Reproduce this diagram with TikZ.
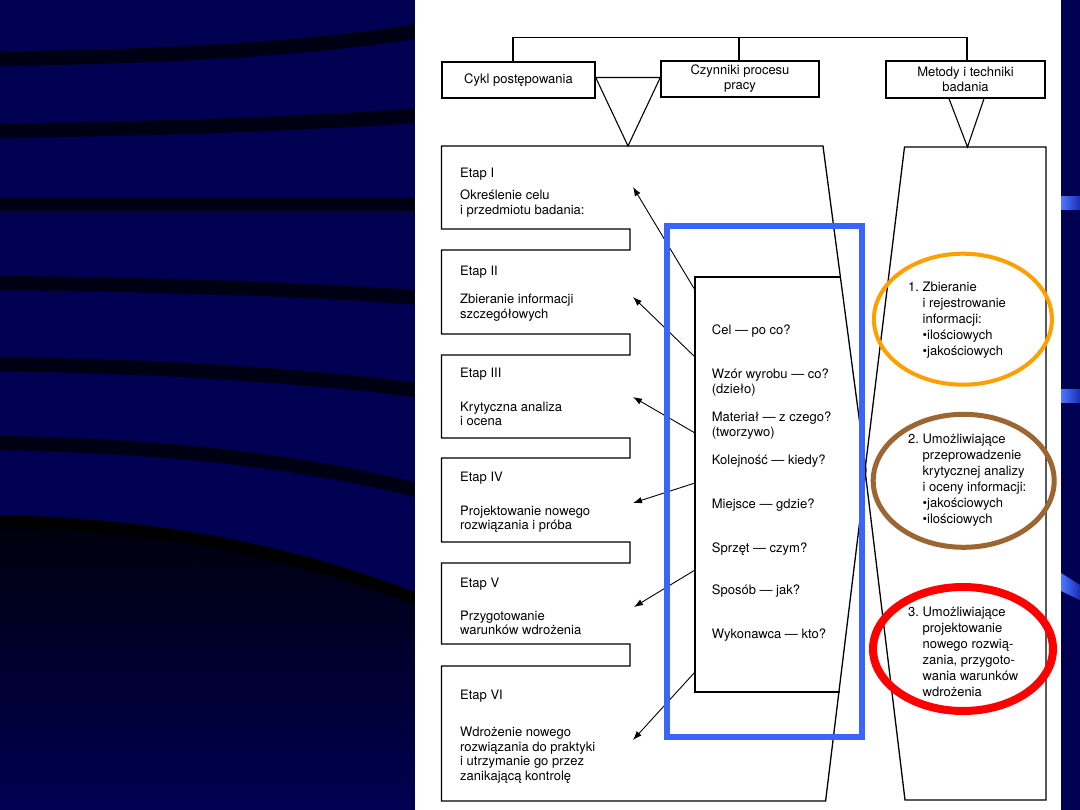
\documentclass[tikz,border=0pt]{standalone}
\usepackage{fontspec}
\setmainfont{TeX Gyre Heros}
\usetikzlibrary{arrows.meta}
\definecolor{navy}{RGB}{0,0,82}
\definecolor{bandc}{RGB}{0,0,20}
\definecolor{darkc}{RGB}{0,0,10}
\definecolor{midc}{RGB}{0,0,24}
\definecolor{bluebox}{RGB}{58,100,250}
\definecolor{orng}{RGB}{255,160,0}
\definecolor{brwn}{RGB}{156,102,50}
\definecolor{redc}{RGB}{255,0,0}
\definecolor{gleam}{RGB}{75,120,255}
\definecolor{gleamdk}{RGB}{25,45,180}
\newcommand{\txtblk}[1]{\begin{tabular}{@{}l@{}}#1\end{tabular}}
\newcommand{\numblk}[1]{\begin{tabular}{@{}l@{\ }l@{}}#1\end{tabular}}
\begin{document}
\begin{tikzpicture}[x=1pt,y=-1pt,line join=miter,
  frame/.style={line width=1.3pt,black},
  ln/.style={line width=1.1pt,black},
  hdr/.style={draw,line width=1.4pt,inner sep=0pt,align=center,font=\fontsize{13}{15}\selectfont},
  txt/.style={inner sep=0pt,anchor=west,font=\fontsize{13}{15}\selectfont},
  etxt/.style={inner sep=0pt,anchor=west,font=\fontsize{13}{14.5}\selectfont},
  otxt/.style={inner sep=0pt,anchor=west,font=\fontsize{13}{16}\selectfont},
  arr/.style={line width=0.9pt,-{Latex[length=9pt,width=6.5pt]}},
  swoosh/.style={draw=bandc,line width=14.5pt},
]
\useasboundingbox (0,0) rectangle (1080,810);
% background
\fill[navy] (0,0) rectangle (1080,810);
\draw[swoosh] (-5,59) .. controls (200,56) and (330,46) .. (425,30);
\draw[swoosh] (-5,131) .. controls (200,128) and (330,122) .. (425,115);
\draw[swoosh] (-5,204) -- (425,204);
\draw[swoosh] (-5,283) .. controls (200,285) and (330,291) .. (425,298);
\draw[swoosh] (-5,364) .. controls (200,367) and (330,379) .. (425,391);
\draw[swoosh] (-5,443) .. controls (200,446) and (330,468) .. (425,492);
\shade[top color=darkc,middle color=midc,bottom color=navy]
  (0,515) .. controls (200,519) and (330,560) .. (425,596) -- (425,810) -- (0,810) -- cycle;
\draw[draw=black,line width=12pt] (-5,521) .. controls (200,525) and (330,566) .. (425,602);
% right strip gleams
\shade[left color=gleam,right color=gleamdk] (1061,197) rectangle (1080,210);
\shade[left color=gleam,right color=gleamdk] (1061,390) rectangle (1080,403);
\shade[left color=gleam,right color=gleamdk] (1061,573) -- (1080,585) -- (1080,600) -- (1061,591) -- cycle;
% white panel
\fill[white] (415,0) rectangle (1061,810);

% header boxes
\node[hdr,minimum width=153pt,minimum height=36pt] (cykl) at (518.5,80) {Cykl postępowania};
\node[hdr,minimum width=158pt,minimum height=36pt] (czyn) at (740,79) {Czynniki procesu\\pracy};
\node[hdr,minimum width=159pt,minimum height=37pt] (met) at (965.5,79.5) {Metody i techniki\\badania};

\coordinate (tl) at (513,37.5);
\coordinate (tm) at (739,37.5);
\coordinate (tr) at (967,37.5);
\draw[ln] (tl |- cykl.north) -- (tl) -- (tr) -- (tr |- met.north);
\draw[ln] (tm) -- (tm |- czyn.north);

\coordinate (v1a) at (cykl.east |- 0,77.5);
\coordinate (v1b) at (czyn.west |- 0,77.5);
\coordinate (apex1) at (628,146);
\draw[ln] (v1a) -- (v1b) -- (apex1) -- cycle;
\coordinate (v2a) at (met.south -| 949,0);
\coordinate (v2b) at (met.south -| 984,0);
\coordinate (apex2) at (967.5,147);
\draw[ln] (v2a) -- (apex2) -- (v2b);

% left column (stages) outline
\coordinate (lx) at (866,470);
\coordinate (rx) at (865,470);
\draw[frame] (441.5,146) -- (823,146) -- (lx) -- (825.6,801) -- (441.5,801)
  -- (441.5,666) -- (630,666) -- (630,644) -- (441.5,644)
  -- (441.5,563) -- (630,563) -- (630,542) -- (441.5,542)
  -- (441.5,458) -- (630,458) -- (630,438) -- (441.5,438)
  -- (441.5,355) -- (630,355) -- (630,334) -- (441.5,334)
  -- (441.5,250) -- (630,250) -- (630,229) -- (441.5,229) -- cycle;
% right column outline
\draw[frame] (904.5,147) -- (1046,147) -- (1046,800) -- (905,800) -- (rx) -- cycle;

% inner box
\coordinate (ib1) at (840.4,277);
\coordinate (ib2) at (695,277);
\coordinate (ib3) at (695,692);
\coordinate (ib4) at (839.6,692);
\draw[frame] (ib1) -- (ib2) -- (ib3) -- (ib4);

% arrows
\coordinate (s1) at (695,290); \coordinate (t1) at (633,187);
\coordinate (s2) at (695,357); \coordinate (t2) at (633,297);
\coordinate (s3) at (695,433); \coordinate (t3) at (633,397);
\coordinate (s4) at (695,483); \coordinate (t4) at (633,503);
\coordinate (s5) at (695,570); \coordinate (t5) at (634,607);
\coordinate (s6) at (695,672); \coordinate (t6) at (633,740);
\foreach \i in {1,...,6} \draw[arr] (s\i) -- (t\i);

% stage texts
\node[txt] (e1h) at (460,174.2) {Etap I};
\node[etxt] (e1d) at (460,204) {\txtblk{Określenie celu\\i przedmiotu badania:}};
\node[txt] (e2h) at (460,272.2) {Etap II};
\node[etxt] (e2d) at (460,308.2) {\txtblk{Zbieranie informacji\\szczegółowych}};
\node[txt] (e3h) at (460,374.2) {Etap III};
\node[etxt] (e3d) at (460,415.7) {\txtblk{Krytyczna analiza\\i ocena}};
\node[txt] (e4h) at (460,478.2) {Etap IV};
\node[etxt] (e4d) at (460,519.4) {\txtblk{Projektowanie nowego\\rozwiązania i próba}};
\node[txt] (e5h) at (460,583.8) {Etap V};
\node[etxt] (e5d) at (460,624.5) {\txtblk{Przygotowanie\\warunków wdrożenia}};
\node[txt] (e6h) at (460,696.5) {Etap VI};
\node[etxt] (e6d) at (460,755.7) {\txtblk{Wdrożenie nowego\\rozwiązania do praktyki\\i utrzymanie go przez\\zanikającą kontrolę}};

% factor texts
\node[txt] (f1) at (711.7,331.5) {Cel — po co?};
\node[txt] (f2) at (711.7,383.2) {\txtblk{Wzór wyrobu — co?\\(dzieło)}};
\node[txt] (f3) at (711.7,426.5) {\txtblk{Materiał — z czego?\\(tworzywo)}};
\node[txt] (f4) at (711.7,461.5) {Kolejność — kiedy?};
\node[txt] (f5) at (711.7,505.5) {Miejsce — gdzie?};
\node[txt] (f6) at (711.7,548.8) {Sprzęt — czym?};
\node[txt] (f7) at (711.7,591.5) {Sposób — jak?};
\node[txt] (f8) at (711.7,634.8) {Wykonawca — kto?};

% highlight box
\draw[bluebox,line width=5.5pt] (667,226) rectangle (862,737);

% method texts
\node[otxt] (m1) at (908,320.5) {\numblk{1. & Zbieranie\\ & i rejestrowanie\\ & informacji:\\ & \textbullet ilościowych\\ & \textbullet jakościowych}};
\node[otxt] (m2) at (908,480.5) {\numblk{2. & Umożliwiające\\ & przeprowadzenie\\ & krytycznej analizy\\ & i oceny informacji:\\ & \textbullet jakościowych\\ & \textbullet ilościowych}};
\node[otxt] (m3) at (908,653) {\numblk{3. & Umożliwiające\\ & projektowanie\\ & nowego rozwią-\\ & zania, przygoto-\\ & wania warunków\\ & wdrożenia}};

% ellipses
\draw[orng,line width=4pt] (962.9,319.2) ellipse [x radius=89pt,y radius=65.5pt];
\draw[brwn,line width=5pt] (963.7,480.8) ellipse [x radius=90.5pt,y radius=66.5pt];
\draw[redc,line width=8pt] (963,649) ellipse [x radius=90pt,y radius=62pt];
\end{tikzpicture}
\end{document}
